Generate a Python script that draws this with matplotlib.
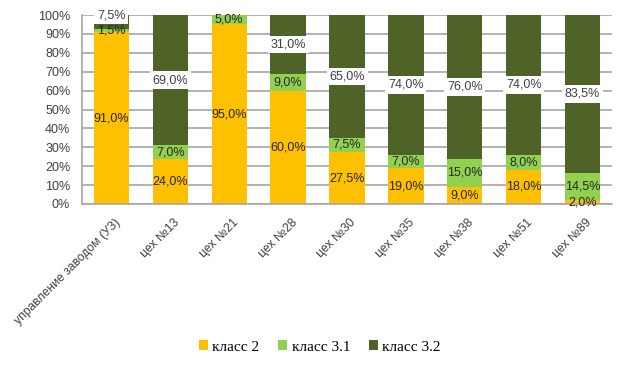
import numpy as np
import matplotlib
matplotlib.use("Agg")
import matplotlib.pyplot as plt
import matplotlib.transforms as mtransforms
from matplotlib.ticker import PercentFormatter

categories = ["управление заводом (УЗ)", "цех №13", "цех №21", "цех №28", "цех №30",
              "цех №35", "цех №38", "цех №51", "цех №89"]
klass_2 = [91.0, 24.0, 95.0, 60.0, 27.5, 19.0, 9.0, 18.0, 2.0]
klass_31 = [1.5, 7.0, 5.0, 9.0, 7.5, 7.0, 15.0, 8.0, 14.5]
klass_32 = [7.5, 69.0, 0.0, 31.0, 65.0, 74.0, 76.0, 74.0, 83.5]
series_names = ["класс 2", "класс 3.1", "класс 3.2"]
colors = ["#FFC000", "#92D050", "#4F6228"]

plt.rcParams['font.family'] = ['Liberation Sans', 'DejaVu Sans']

fig = plt.figure(figsize=(6.27, 3.68), dpi=100)
ax = fig.add_axes([82 / 627, 1 - 204 / 368, 530 / 627, 189 / 368])

x = np.arange(len(categories))
bottom = np.zeros(len(categories))
for vals, name, col in zip([klass_2, klass_31, klass_32], series_names, colors):
    vals = np.array(vals)
    ax.bar(x, vals, 0.6, bottom=bottom, color=col, label=name, zorder=2)
    for xi, b, v in zip(x, bottom, vals):
        if v <= 0:
            continue
        txt = f"{v:.1f}%".replace(".", ",")
        if name == "класс 3.2":
            # small top segment: label sits at the top edge
            ypos = 100.0 if v < 10 else b + v / 2
            ax.text(xi, ypos, txt, ha="center", va="center", fontsize=9,
                    color="#404040", zorder=4, clip_on=False,
                    bbox=dict(facecolor="white", edgecolor="none", pad=2.0))
        else:
            ax.text(xi, b + v / 2, txt, ha="center", va="center", fontsize=9,
                    color="#262626", zorder=4)
    bottom += vals

ax.set_ylim(0, 100)
ax.set_xlim(-0.5, len(categories) - 0.5)
ax.set_yticks(np.arange(0, 101, 10))
ax.yaxis.set_major_formatter(PercentFormatter(decimals=0))
ax.grid(axis="y", color="#A6A6A6", linewidth=1.2, zorder=0)
for s in ["top", "right"]:
    ax.spines[s].set_visible(False)
ax.spines["left"].set_color("#A6A6A6")
ax.spines["bottom"].set_color("#A6A6A6")
ax.spines["left"].set_linewidth(1.2)
ax.spines["bottom"].set_linewidth(1.2)
ax.tick_params(axis="y", length=0, labelsize=9, labelcolor="#404040", pad=8.5)
ax.tick_params(axis="x", length=0, labelsize=8.7, labelcolor="#404040", pad=9)
ax.set_xticks(x)
ax.set_xticklabels(categories, rotation=45, ha="right", va="top", rotation_mode="anchor")
shift = mtransforms.ScaledTranslation(3 / 100, 0, fig.dpi_scale_trans)
for lbl in ax.get_xticklabels():
    lbl.set_transform(lbl.get_transform() + shift)

fig.legend(loc="center", bbox_to_anchor=(0.51, 1 - 347 / 368), ncol=3, frameon=False,
           prop={"family": "Liberation Serif", "size": 11}, handlelength=0.6,
           handleheight=0.6, handletextpad=0.3, columnspacing=1.2)

fig.savefig("out.png", dpi=100)
